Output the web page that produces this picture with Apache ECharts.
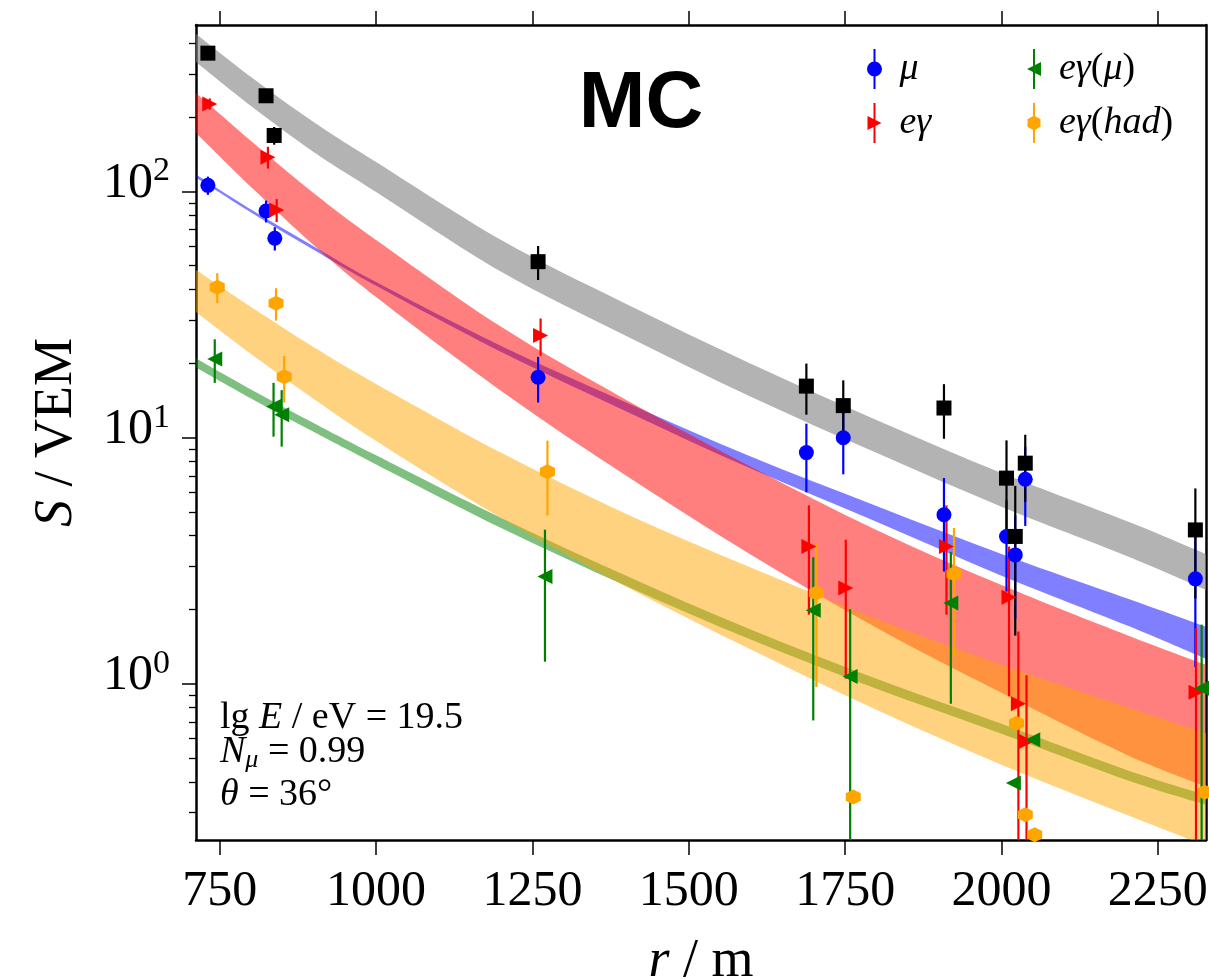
<!DOCTYPE html>
<html>
<head>
<meta charset="utf-8">
<script src="https://cdn.jsdelivr.net/npm/echarts@6/dist/echarts.min.js"></script>
<style>
  html, body { margin: 0; padding: 0; background: #fff; }
  #chart { width: 1209px; height: 979px; }
</style>
</head>
<body>
<div id="chart"></div>
<script>
// axis ranges and ticks
const rMin = 712, rMax = 2327;
const sMin = 0.232, sMax = 475;
const rTicks = [750, 1000, 1250, 1500, 1750, 2000, 2250];
const sTicks = [1, 10, 100];
const sMinorTicks = [0.3, 0.4, 0.5, 0.6, 0.7, 0.8, 0.9,
  2, 3, 4, 5, 6, 7, 8, 9, 20, 30, 40, 50, 60, 70, 80, 90, 200, 300, 400];

// bands (LDF fits), sampled at bandR
const bandR = [712, 800, 900, 1000, 1200, 1400, 1600, 1800, 2000, 2200, 2327];
const totHi = [436.6, 292.1, 191.8, 131.9, 63.6, 34.95, 19.94, 11.81, 7.19, 4.59, 3.37];
const totLo = [336.0, 222.6, 144.8, 99.6, 47.2, 25.9, 14.64, 8.68, 5.24, 3.31, 2.41];
const muHi = [117.3, 84.6, 60.0, 42.9, 23.6, 13.91, 8.36, 5.28, 3.37, 2.225, 1.704];
const muLo = [114.1, 82.3, 58.0, 41.4, 22.3, 12.79, 7.47, 4.55, 2.75, 1.729, 1.263];
const egHi = [251.5, 160.6, 98.7, 63.6, 28.2, 14.24, 7.61, 4.22, 2.52, 1.58, 1.195];
const egLo = [173.0, 104.4, 60.7, 37.3, 15.49, 7.00, 3.34, 1.689, 0.919, 0.515, 0.382];
const egmuHi = [20.99, 15.71, 11.48, 8.48, 4.72, 2.75, 1.657, 1.048, 0.688, 0.447, 0.354];
const egmuLo = [19.30, 14.44, 10.56, 7.79, 4.30, 2.50, 1.509, 0.954, 0.627, 0.407, 0.3225];
const ehadHi = [48.0, 33.99, 23.37, 16.54, 8.68, 4.90, 2.96, 1.837, 1.195, 0.806, 0.632];
const ehadLo = [32.43, 21.89, 14.38, 9.70, 4.72, 2.48, 1.374, 0.784, 0.469, 0.2937, 0.2198];

// station signals
const muR = [731, 824, 838, 1259, 1688, 1747, 1908, 2008, 2022, 2038, 2310];
const muV = [106, 83.4, 64.6, 17.6, 8.7, 10.0, 4.86, 3.97, 3.34, 6.78, 2.67];
const muE = [9, 8.5, 7, 3.7, 2.7, 2.9, 2.0, 1.6, 1.5, 2.4, 1.5];

const egR = [734, 827, 841, 1263, 1692, 1751, 1912, 2012, 2027, 2040, 2311];
const egV = [227, 138, 84.2, 26.0, 3.61, 2.45, 3.61, 2.25, 0.83, 0.583, 0.925];
const egE = [12, 14, 9, 4.5, 1.7, 1.4, 1.7, 1.36, 0.8, 0.5, 0.76];

const egmuR = [742, 836, 849, 1270, 1699, 1758, 1919, 2019, 2050, 2320];
const egmuV = [20.9, 13.4, 12.4, 2.73, 1.99, 1.07, 2.13, 0.395, 0.592, 0.96];
const egmuE = [4.2, 3.3, 3.2, 1.5, 1.28, 0.94, 1.3, 0, 0, 0.78];

const ehadR = [746, 840, 853, 1274, 1704, 1763, 1924, 2024, 2038, 2053, 2325];
const ehadV = [40.9, 35.2, 17.7, 7.28, 2.34, 0.347, 2.80, 0.692, 0.294, 0.2435, 0.363];
const ehadE = [5.7, 5.3, 3.8, 2.45, 1.37, 0, 1.5, 0, 0, 0, 0];

const totR = [731, 824, 837, 1259, 1688, 1747, 1908, 2008, 2022, 2038, 2310];
const totV = [365, 245, 169, 51.9, 16.2, 13.5, 13.2, 6.85, 3.97, 7.88, 4.22];
const totE = [10, 8, 14, 8.2, 3.8, 3.6, 3.3, 2.9, 2.4, 2.4, 2.0];

const serif = 'Liberation Serif';

// marker shapes
const triRight = 'path://M0,0L10,5L0,10Z';
const triLeft = 'path://M10,0L0,5L10,10Z';
const hexagon = 'path://M5,0L9.33,2.5L9.33,7.5L5,10L0.67,7.5L0.67,2.5Z';

// legend icons: marker with its error bar
const barPath = 'M7,0h2v40h-2Z';
const iconCircle = 'path://' + barPath + 'M0.5,20a7.5,7.5 0 1 1 15,0a7.5,7.5 0 1 1 -15,0Z';
const iconRight = 'path://' + barPath + 'M1,13L15,20L1,27Z';
const iconLeft = 'path://' + barPath + 'M15,27L1,20L15,13Z';
const iconHex = 'path://' + barPath + 'M8,12.5L14.5,16.25L14.5,23.75L8,27.5L1.5,23.75L1.5,16.25Z';

function zip(a, b) {
  return a.map((x, i) => [x, b[i]]);
}

// smooth curve through pixel points (catmull-rom as cubic beziers)
function curveTo(pts, start) {
  let d = start ? 'M' + pts[0][0] + ',' + pts[0][1] : 'L' + pts[0][0] + ',' + pts[0][1];
  for (let i = 0; i < pts.length - 1; i++) {
    const p0 = pts[Math.max(i - 1, 0)], p1 = pts[i], p2 = pts[i + 1];
    const p3 = pts[Math.min(i + 2, pts.length - 1)];
    const c1x = p1[0] + (p2[0] - p0[0]) / 6, c1y = p1[1] + (p2[1] - p0[1]) / 6;
    const c2x = p2[0] - (p3[0] - p1[0]) / 6, c2y = p2[1] - (p3[1] - p1[1]) / 6;
    d += 'C' + c1x + ',' + c1y + ' ' + c2x + ',' + c2y + ' ' + p2[0] + ',' + p2[1];
  }
  return d;
}

function band(lo, hi, color) {
  return {
    type: 'custom',
    coordinateSystem: 'cartesian2d',
    clip: true,
    silent: true,
    data: [[bandR[0], hi[0]]],
    renderItem: function (params, api) {
      const top = bandR.map((r, i) => api.coord([r, hi[i]]));
      const bot = bandR.map((r, i) => api.coord([r, lo[i]])).reverse();
      const d = curveTo(top, true) + curveTo(bot, false) + 'Z';
      return { type: 'path', shape: { pathData: d }, style: { fill: color } };
    }
  };
}

function errBars(rs, vs, es, color) {
  return {
    type: 'custom',
    coordinateSystem: 'cartesian2d',
    clip: true,
    silent: true,
    data: rs.map((r, i) => [r, vs[i], es[i]]),
    renderItem: function (params, api) {
      const r = api.value(0), v = api.value(1), e = api.value(2);
      if (!e) return;
      const a = api.coord([r, Math.max(v - e, 1e-3)]);
      const b = api.coord([r, v + e]);
      return {
        type: 'line',
        shape: { x1: a[0], y1: a[1], x2: b[0], y2: b[1] },
        style: { stroke: color, lineWidth: 2.2 }
      };
    }
  };
}

function points(name, rs, vs, symbol, size, color) {
  return {
    type: 'scatter',
    name: name,
    data: zip(rs, vs),
    symbol: symbol,
    symbolSize: size,
    itemStyle: { color: color, opacity: 1 },
    silent: true
  };
}

const chart = echarts.init(document.getElementById('chart'), null, { renderer: 'canvas' });

const frame = { show: true, onZero: false, lineStyle: { color: '#000', width: 2.5 } };

const legendText = {
  fontFamily: serif,
  fontSize: 38,
  color: '#000',
  padding: [0, 0, 0, 12],
  rich: {
    i: { fontFamily: serif, fontSize: 38, fontStyle: 'italic' },
    n: { fontFamily: serif, fontSize: 38 }
  }
};
const legendFmt = {
  'μ': '{i|μ}',
  'eγ': '{i|eγ}',
  'eγ(μ)': '{i|eγ}{n|(}{i|μ}{n|)}',
  'eγ(had)': '{i|eγ}{n|(}{i|had}{n|)}'
};

chart.setOption({
  animation: false,
  backgroundColor: '#fff',
  grid: { left: 196, right: 3, top: 25, bottom: 139, outerBoundsMode: 'none', containLabel: false },
  xAxis: [
    {
      type: 'value', position: 'bottom', min: rMin, max: rMax,
      axisLine: frame,
      axisTick: { customValues: rTicks, length: 15, lineStyle: { color: '#000', width: 1.5 } },
      axisLabel: {
        customValues: rTicks, margin: 27, color: '#000',
        fontFamily: serif, fontSize: 50,
        formatter: v => String(v)
      },
      splitLine: { show: false },
      name: '{i|r} / m', nameLocation: 'middle', nameGap: 95,
      nameTextStyle: {
        fontFamily: serif, fontSize: 54, color: '#000',
        rich: { i: { fontFamily: serif, fontSize: 54, fontStyle: 'italic' } }
      }
    },
    {
      type: 'value', position: 'top', min: rMin, max: rMax,
      axisLine: frame,
      axisTick: { customValues: rTicks, length: 14, lineStyle: { color: '#000', width: 1.5 } },
      axisLabel: { show: false },
      splitLine: { show: false }
    }
  ],
  yAxis: [
    {
      type: 'log', position: 'left', min: sMin, max: sMax,
      axisLine: frame,
      axisTick: { customValues: sTicks, length: 14, lineStyle: { color: '#000', width: 1.5 } },
      axisLabel: {
        customValues: sTicks, margin: 26, color: '#000',
        formatter: function (v) {
          return '{b|10}{s|' + Math.round(Math.log10(v)) + '}';
        },
        rich: {
          b: { fontFamily: serif, fontSize: 50, padding: [0, 0, 16, 0] },
          s: { fontFamily: serif, fontSize: 34, padding: [0, 0, 40, 0] }
        }
      },
      splitLine: { show: false },
      name: '{i|S} / VEM', nameLocation: 'middle', nameGap: 112,
      nameTextStyle: {
        fontFamily: serif, fontSize: 54, color: '#000',
        rich: { i: { fontFamily: serif, fontSize: 54, fontStyle: 'italic' } }
      }
    },
    {
      // minor ticks of the log axis, placed on an exponent scale
      type: 'value', position: 'left', offset: 0,
      min: Math.log10(sMin), max: Math.log10(sMax),
      axisLine: { show: false, onZero: false },
      axisTick: {
        show: true, customValues: sMinorTicks.map(v => Math.log10(v)),
        length: 7, lineStyle: { color: '#000', width: 1.3 }
      },
      axisLabel: { show: false },
      splitLine: { show: false }
    },
    {
      type: 'log', position: 'right', min: sMin, max: sMax,
      axisLine: frame,
      axisTick: { show: false },
      axisLabel: { show: false },
      splitLine: { show: false }
    }
  ],
  legend: [
    {
      orient: 'vertical', left: 862, top: 44, itemWidth: 16, itemHeight: 40, itemGap: 14,
      selectedMode: false, textStyle: legendText,
      formatter: n => legendFmt[n],
      data: [{ name: 'μ', icon: iconCircle }, { name: 'eγ', icon: iconRight }]
    },
    {
      orient: 'vertical', left: 1022, top: 44, itemWidth: 16, itemHeight: 40, itemGap: 14,
      selectedMode: false, textStyle: legendText,
      formatter: n => legendFmt[n],
      data: [{ name: 'eγ(μ)', icon: iconLeft }, { name: 'eγ(had)', icon: iconHex }]
    }
  ],
  graphic: [
    {
      type: 'text', x: 641, y: 105, silent: true,
      style: {
        text: 'MC', align: 'center', verticalAlign: 'middle',
        font: 'bold 80px "Liberation Sans"', fill: '#000'
      }
    },
    {
      type: 'text', x: 220, y: 718, silent: true,
      style: {
        text: '{n|lg }{i|E}{n| / eV = 19.5}', verticalAlign: 'middle',
        rich: {
          n: { fontFamily: serif, fontSize: 38, fill: '#000' },
          i: { fontFamily: serif, fontSize: 38, fontStyle: 'italic', fill: '#000' }
        }
      }
    },
    {
      type: 'text', x: 220, y: 752, silent: true,
      style: {
        text: '{i|N}{sub|μ}{n| = 0.99}', verticalAlign: 'middle',
        rich: {
          n: { fontFamily: serif, fontSize: 38, fill: '#000' },
          i: { fontFamily: serif, fontSize: 38, fontStyle: 'italic', fill: '#000' },
          sub: { fontFamily: serif, fontSize: 26, fontStyle: 'italic', fill: '#000', padding: [16, 0, 0, 0] }
        }
      }
    },
    {
      type: 'text', x: 220, y: 795, silent: true,
      style: {
        text: '{i|θ}{n| = 36°}', verticalAlign: 'middle',
        rich: {
          n: { fontFamily: serif, fontSize: 38, fill: '#000' },
          i: { fontFamily: serif, fontSize: 38, fontStyle: 'italic', fill: '#000' }
        }
      }
    }
  ],
  series: [
    band(totLo, totHi, 'rgba(128,128,128,0.6)'),
    band(muLo, muHi, 'rgba(0,0,255,0.5)'),
    band(egLo, egHi, 'rgba(255,0,0,0.5)'),
    band(egmuLo, egmuHi, 'rgba(0,128,0,0.5)'),
    band(ehadLo, ehadHi, 'rgba(255,165,0,0.5)'),
    errBars(muR, muV, muE, '#0000ff'),
    points('μ', muR, muV, 'circle', 15, '#0000ff'),
    errBars(egR, egV, egE, '#ff0000'),
    points('eγ', egR, egV, triRight, 15, '#ff0000'),
    errBars(egmuR, egmuV, egmuE, '#008000'),
    points('eγ(μ)', egmuR, egmuV, triLeft, 15, '#008000'),
    errBars(ehadR, ehadV, ehadE, '#ffa500'),
    points('eγ(had)', ehadR, ehadV, hexagon, 15, '#ffa500'),
    errBars(totR, totV, totE, '#000000'),
    points('total', totR, totV, 'rect', 15, '#000000')
  ]
});
</script>
</body>
</html>
